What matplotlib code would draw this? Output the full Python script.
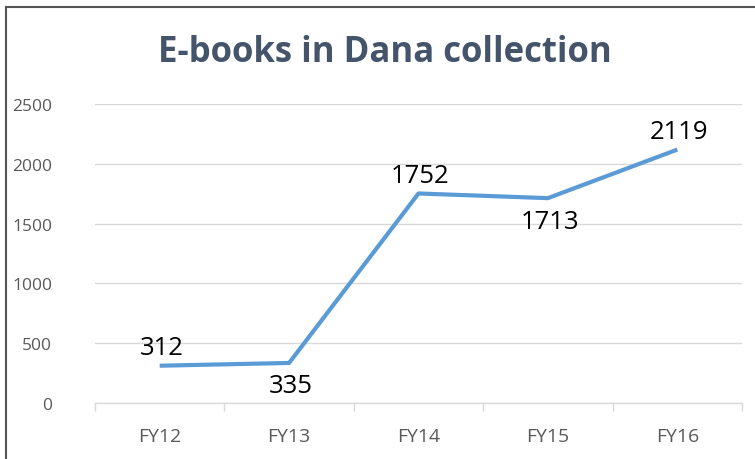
import matplotlib.pyplot as plt
from matplotlib.lines import Line2D

# data
years = ["FY12", "FY13", "FY14", "FY15", "FY16"]
ebooks = [312, 335, 1752, 1713, 2119]

plt.rcParams['font.family'] = ['Open Sans', 'DejaVu Sans']

fig = plt.figure(figsize=(7.55, 4.6), dpi=100)
fig.set_facecolor("white")
ax = fig.add_axes([0.1258, 0.1217, 0.857, 0.65])

x = list(range(len(years)))
ax.plot(x, ebooks, color="#5B9BD5", linewidth=3, solid_capstyle="butt", zorder=3)

# labels alternate above / below the line
place = ["above", "below", "above", "below", "above"]
for xi, v, p in zip(x, ebooks, place):
    dy = 18 if p == "above" else -23
    ax.annotate(str(v), (xi, v), xytext=(2, dy), textcoords="offset pixels",
                ha="center", va="center", fontsize=18.5, color="black", zorder=4)

ax.set_xlim(-0.5, len(years) - 0.5)
ax.set_ylim(0, 2500)
ax.set_yticks(range(0, 2501, 500))
ax.set_xticks(x)
ax.set_xticklabels(years)
ax.set_xticks([i - 0.5 for i in range(len(years) + 1)], minor=True)

ax.grid(axis="y", color="#D9D9D9", linewidth=1)
ax.set_axisbelow(True)
for s in ["top", "right", "left"]:
    ax.spines[s].set_visible(False)
ax.spines["bottom"].set_color("#D9D9D9")
ax.spines["bottom"].set_linewidth(1)

ax.tick_params(axis="y", length=0, labelsize=12.5, labelcolor="#595959", pad=31)
ax.tick_params(axis="x", which="major", length=0, labelsize=14, labelcolor="#595959", pad=17)
ax.tick_params(axis="x", which="minor", length=6, color="#D9D9D9", width=1)

fig.text(0.51, 0.885, "E-books in Dana collection", ha="center", va="center",
         fontsize=25, fontweight="bold", color="#44546A")

# outer frame (left and top edges visible)
fig.add_artist(Line2D([0.008, 0.008], [0, 0.983], color="#555555", linewidth=1.5))
fig.add_artist(Line2D([0.008, 1.0], [0.983, 0.983], color="#555555", linewidth=1.5))

fig.savefig("out.png", dpi=100, facecolor=fig.get_facecolor())
